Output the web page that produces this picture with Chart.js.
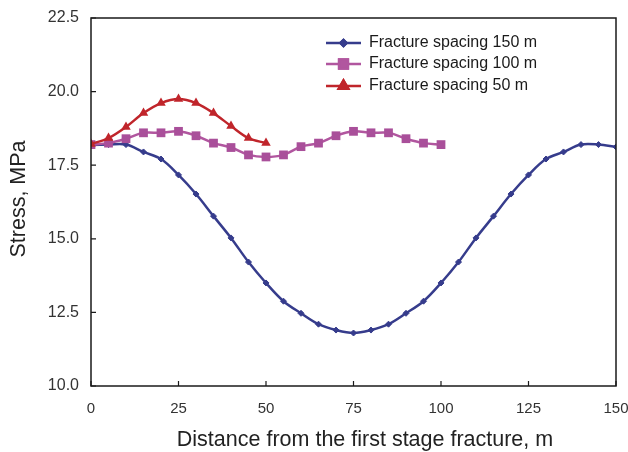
<!DOCTYPE html>
<html>
<head>
<meta charset="utf-8">
<script src="https://cdn.jsdelivr.net/npm/chart.js@4/dist/chart.umd.min.js"></script>
<style>
  html, body { margin: 0; padding: 0; background: #fff; }
  #wrap { width: 628px; height: 452px; position: relative; }
</style>
</head>
<body>
<div id="wrap"><canvas id="c" width="628" height="452"></canvas></div>
<script>
// ---- data ----
const distance150 = [0,5,10,15,20,25,30,35,40,45,50,55,60,65,70,75,80,85,90,95,100,105,110,115,120,125,130,135,140,145,150];
const stress150 = [18.19,18.2,18.2,17.95,17.71,17.17,16.52,15.77,15.03,14.21,13.5,12.88,12.47,12.1,11.9,11.8,11.9,12.1,12.47,12.88,13.5,14.21,15.03,15.77,16.52,17.17,17.71,17.95,18.2,18.2,18.12];

const distance100 = [0,5,10,15,20,25,30,35,40,45,50,55,60,65,70,75,80,85,90,95,100];
const stress100 = [18.2,18.25,18.4,18.6,18.6,18.65,18.5,18.25,18.1,17.85,17.78,17.85,18.13,18.25,18.5,18.65,18.6,18.6,18.4,18.25,18.2];

const distance50 = [0,5,10,15,20,25,30,35,40,45,50];
const stress50 = [18.22,18.42,18.8,19.27,19.61,19.75,19.61,19.27,18.83,18.42,18.25];

const seriesNames = ['Fracture spacing 150 m','Fracture spacing 100 m','Fracture spacing 50 m'];
const xTicks = [0,25,50,75,100,125,150];
const yTicks = [10.0,12.5,15.0,17.5,20.0,22.5];
const xTitle = 'Distance from the first stage fracture, m';
const yTitle = 'Stress, MPa';

const toPts = (xs, ys) => xs.map((x, i) => ({x: x, y: ys[i]}));

const FONT = "'Liberation Sans', Arial, sans-serif";

const frame = {
  id: 'frame',
  afterDatasetsDraw(chart) {
    const {ctx, chartArea: a, scales} = chart;
    ctx.save();
    ctx.strokeStyle = '#1a1a1a';
    ctx.lineWidth = 1.5;
    ctx.strokeRect(a.left, a.top, a.right - a.left, a.bottom - a.top);
    ctx.lineWidth = 1.2;
    ctx.beginPath();
    xTicks.forEach(v => {
      const px = scales.x.getPixelForValue(v);
      ctx.moveTo(px, a.bottom); ctx.lineTo(px, a.bottom - 5);
    });
    yTicks.forEach(v => {
      const py = scales.y.getPixelForValue(v);
      ctx.moveTo(a.left, py); ctx.lineTo(a.left + 5, py);
    });
    ctx.stroke();

    // axis titles
    ctx.fillStyle = '#222';
    ctx.font = '21.5px ' + FONT;
    ctx.textAlign = 'center';
    ctx.textBaseline = 'middle';
    ctx.fillText(xTitle, 365, 440);
    ctx.save();
    ctx.translate(19, 199);
    ctx.rotate(-Math.PI / 2);
    ctx.fillText(yTitle, 0, 0);
    ctx.restore();

    // legend
    const lx0 = 326, lx1 = 361, tx = 369;
    const rows = [43, 64, 86];
    chart.data.datasets.forEach((ds, i) => {
      const y = rows[i];
      ctx.strokeStyle = ds.borderColor;
      ctx.lineWidth = ds.borderWidth;
      ctx.beginPath(); ctx.moveTo(lx0, y); ctx.lineTo(lx1, y); ctx.stroke();
      Chart.helpers.drawPoint(ctx, {
        pointStyle: ds.pointStyle, radius: ds.pointRadius, rotation: 0, borderWidth: 1
      }, (lx0 + lx1) / 2, y);
      ctx.fillStyle = ds.borderColor;
      ctx.strokeStyle = ds.borderColor;
      ctx.fill(); ctx.stroke();
      ctx.fillStyle = '#1a1a1a';
      ctx.font = '16px ' + FONT;
      ctx.textBaseline = 'middle';
      ctx.textAlign = 'left';
      ctx.fillText(seriesNames[i], tx, y);
    });
    ctx.restore();
  }
};

new Chart(document.getElementById('c'), {
  type: 'line',
  data: {
    datasets: [
      {
        label: seriesNames[0], data: toPts(distance150, stress150),
        borderColor: '#363c8c', backgroundColor: '#363c8c', borderWidth: 2.5,
        pointStyle: 'rectRot', pointRadius: 3, pointBorderWidth: 1, tension: 0.35, order: 3
      },
      {
        label: seriesNames[1], data: toPts(distance100, stress100),
        borderColor: '#b1569f', backgroundColor: '#a94f9a', borderWidth: 2.5,
        pointStyle: 'rect', pointRadius: 6.2, pointBorderWidth: 0, tension: 0.35, order: 2
      },
      {
        label: seriesNames[2], data: toPts(distance50, stress50),
        borderColor: '#c0252b', backgroundColor: '#c0252b', borderWidth: 2.5,
        pointStyle: 'triangle', pointRadius: 5.5, pointBorderWidth: 0, tension: 0.35, order: 1
      }
    ]
  },
  options: {
    responsive: false,
    animation: false,
    devicePixelRatio: 1,
    layout: { padding: { left: 0, right: 12, top: 18, bottom: 0 } },
    plugins: { legend: { display: false }, tooltip: { enabled: false } },
    scales: {
      x: {
        type: 'linear', min: 0, max: 150,
        afterBuildTicks: s => { s.ticks = xTicks.map(v => ({value: v})); },
        afterFit: s => { s.height = 66; s.paddingLeft = 0; s.paddingRight = 0; },
        grid: { display: false, drawTicks: false },
        border: { display: false },
        ticks: { padding: 14, color: '#333', font: { family: FONT, size: 15 }, maxRotation: 0 },
        title: { display: false }
      },
      y: {
        type: 'linear', min: 10, max: 22.5,
        afterBuildTicks: s => { s.ticks = yTicks.map(v => ({value: v})); },
        afterFit: s => { s.width = 91; s.paddingTop = 0; s.paddingBottom = 0; },
        grid: { display: false, drawTicks: false },
        border: { display: false },
        ticks: { padding: 12, color: '#333', font: { family: FONT, size: 16 }, callback: v => Number(v).toFixed(1) },
        title: { display: false }
      }
    }
  },
  plugins: [frame]
});
</script>
</body>
</html>
